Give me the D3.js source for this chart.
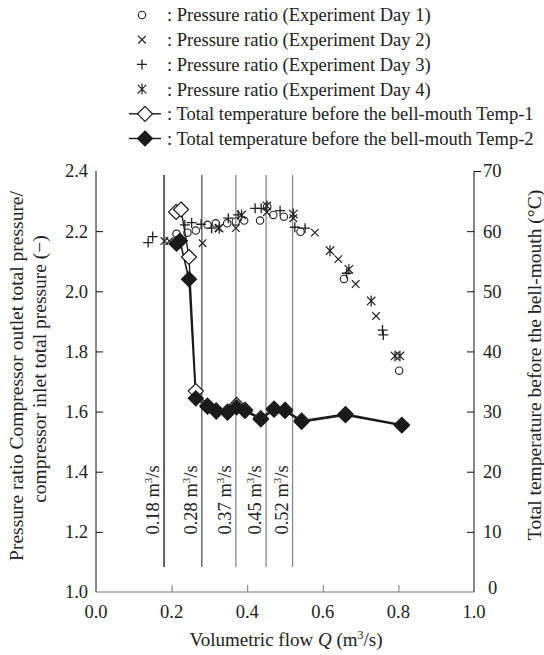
<!DOCTYPE html>
<html>
<head>
<meta charset="utf-8">
<script src="https://cdn.jsdelivr.net/npm/d3@7"></script>
<style>
  body { margin: 0; background: #fff; }
</style>
</head>
<body>
<svg width="544" height="655" style="font-family: 'Liberation Serif', 'DejaVu Serif', serif;"></svg>
<script>
// pressure ratio, one array per experiment day: [flow, ratio]
var day1 = [[0.213, 2.191], [0.242, 2.195], [0.264, 2.202], [0.295, 2.221], [0.317, 2.226],
  [0.347, 2.226], [0.370, 2.232], [0.392, 2.235], [0.434, 2.235], [0.453, 2.282], [0.469, 2.254],
  [0.497, 2.248], [0.541, 2.198], [0.656, 2.041], [0.802, 1.736]];
var day2 = [[0.181, 2.167], [0.194, 2.167], [0.282, 2.160], [0.324, 2.210], [0.370, 2.210],
  [0.452, 2.263], [0.522, 2.243], [0.579, 2.195], [0.641, 2.107], [0.687, 2.024], [0.741, 1.918]];
var day3 = [[0.138, 2.162], [0.150, 2.182], [0.235, 2.221], [0.253, 2.228], [0.278, 2.223],
  [0.306, 2.210], [0.350, 2.243], [0.376, 2.254], [0.421, 2.276], [0.437, 2.276], [0.487, 2.268],
  [0.526, 2.213], [0.553, 2.210], [0.663, 2.060], [0.758, 1.871], [0.760, 1.855]];
var day4 = [[0.326, 2.210], [0.385, 2.254], [0.452, 2.284], [0.522, 2.257], [0.619, 2.135],
  [0.669, 2.073], [0.728, 1.968], [0.791, 1.785], [0.804, 1.785]];

// total temperature before the bell-mouth (deg C)
var temp1 = [[0.212, 63.2], [0.225, 63.6], [0.246, 55.7], [0.264, 33.4], [0.295, 31.0],
  [0.318, 30.2], [0.348, 30.0], [0.372, 31.1], [0.394, 30.3], [0.436, 28.9], [0.471, 30.5],
  [0.500, 30.3], [0.544, 28.5], [0.660, 29.6], [0.809, 27.8]];
var temp2 = [[0.213, 57.9], [0.222, 58.4], [0.246, 52.0], [0.264, 32.2], [0.295, 30.8],
  [0.318, 30.0], [0.348, 29.8], [0.372, 30.7], [0.394, 30.1], [0.436, 28.7], [0.471, 30.3],
  [0.500, 30.1], [0.544, 28.3], [0.660, 29.4], [0.809, 27.7]];

// marked flow rates
var flowLines = [0.18, 0.28, 0.37, 0.45, 0.52];
var flowColors = ["#111", "#555", "#888", "#888", "#888"];

var xTicks = [0.0, 0.2, 0.4, 0.6, 0.8, 1.0];
var yTicks = [1.0, 1.2, 1.4, 1.6, 1.8, 2.0, 2.2, 2.4];
var y2Ticks = [0, 10, 20, 30, 40, 50, 60, 70];

var legendLabels = [": Pressure ratio (Experiment Day 1)", ": Pressure ratio (Experiment Day 2)",
  ": Pressure ratio (Experiment Day 3)", ": Pressure ratio (Experiment Day 4)",
  ": Total temperature before the bell-mouth Temp-1", ": Total temperature before the bell-mouth Temp-2"];

var FONT = "'Liberation Serif', 'DejaVu Serif', serif";
var svg = d3.select("svg");

// scales
var x = d3.scaleLinear().domain([0, 1.0]).range([96, 474]);
var y = d3.scaleLinear().domain([1.0, 2.4]).range([592, 171]);
var y2 = d3.scaleLinear().domain([0, 70]).range([592, 171]);

// marker drawing helpers
function marker(g, type, cx, cy) {
  if (type == "o") {
    g.append("circle").attr("cx", cx).attr("cy", cy).attr("r", 3.7)
      .attr("fill", "none").attr("stroke", "#222").attr("stroke-width", 1.1);
  } else if (type == "x") {
    var s = 3.8;
    g.append("path").attr("d", "M" + (cx - s) + "," + (cy - s) + "L" + (cx + s) + "," + (cy + s) +
      "M" + (cx - s) + "," + (cy + s) + "L" + (cx + s) + "," + (cy - s))
      .attr("stroke", "#222").attr("stroke-width", 1.2);
  } else if (type == "+") {
    var p = 5;
    g.append("path").attr("d", "M" + (cx - p) + "," + cy + "L" + (cx + p) + "," + cy +
      "M" + cx + "," + (cy - p) + "L" + cx + "," + (cy + p))
      .attr("stroke", "#222").attr("stroke-width", 1.3);
  } else if (type == "*") {
    var a = 4.2;
    g.append("path").attr("d", "M" + (cx - a) + "," + (cy - a) + "L" + (cx + a) + "," + (cy + a) +
      "M" + (cx - a) + "," + (cy + a) + "L" + (cx + a) + "," + (cy - a) +
      "M" + cx + "," + (cy - 5.5) + "L" + cx + "," + (cy + 5.5))
      .attr("stroke", "#222").attr("stroke-width", 1.2);
  } else {
    var d = 7.5;
    g.append("path").attr("d", "M" + cx + "," + (cy - d) + "L" + (cx + d) + "," + cy +
      "L" + cx + "," + (cy + d) + "L" + (cx - d) + "," + cy + "Z")
      .attr("fill", type == "dfill" ? "#1a1a1a" : "#fff")
      .attr("stroke", "#1a1a1a").attr("stroke-width", 1.2);
  }
}

function label(sel) {
  return sel.attr("font-family", FONT).style("font-family", FONT).attr("fill", "#222");
}

// vertical flow lines with labels
var fl = svg.append("g");
flowLines.forEach(function (q, i) {
  fl.append("line").attr("x1", x(q)).attr("x2", x(q)).attr("y1", 175).attr("y2", 567)
    .attr("stroke", flowColors[i]).attr("stroke-width", 1.3);
  var t = label(fl.append("text"))
    .attr("transform", "translate(" + (x(q) - 5) + ",500) rotate(-90)")
    .attr("text-anchor", "middle")
    .style("font-size", "18.5px");
  t.append("tspan").text(q.toFixed(2) + " m");
  t.append("tspan").attr("dy", -7).style("font-size", "11px").text("3");
  t.append("tspan").attr("dy", 7).text("/s");
});

// axes
var axL = svg.append("g").attr("transform", "translate(96,0)")
  .call(d3.axisRight(y).tickValues(yTicks).tickSize(7).tickFormat(""));
axL.select(".domain").attr("stroke", "#111").attr("d", "M0,171V592");
axL.selectAll(".tick line").attr("stroke", "#111");
axL.selectAll(".tick").filter(function (d) { return d == 1.0 || d == 2.4; }).select("line").remove();

var axR = svg.append("g").attr("transform", "translate(474,0)")
  .call(d3.axisLeft(y2).tickValues(y2Ticks).tickSize(7).tickFormat(""));
axR.select(".domain").attr("stroke", "#111").attr("d", "M0,171V592");
axR.selectAll(".tick line").attr("stroke", "#111");
axR.selectAll(".tick").filter(function (d) { return d == 0; }).select("line").remove();
axR.selectAll(".tick").filter(function (d) { return d == 70; }).select("line").attr("x2", 7);

var axB = svg.append("g").attr("transform", "translate(0,592)")
  .call(d3.axisTop(x).tickValues(xTicks).tickSize(7).tickFormat(""));
axB.select(".domain").attr("stroke", "#777").attr("d", "M96,0H474");
axB.selectAll(".tick line").attr("stroke", "#777");
axB.selectAll(".tick").filter(function (d) { return d == 0 || d == 1.0; }).select("line").remove();

// tick labels
label(svg.append("g").selectAll("text").data(yTicks).enter().append("text"))
  .attr("x", 88).attr("y", function (d) { return y(d); }).attr("dy", "0.35em")
  .attr("text-anchor", "end").style("font-size", "18.5px").text(function (d) { return d.toFixed(1); });
label(svg.append("g").selectAll("text").data(y2Ticks).enter().append("text"))
  .attr("x", 483).attr("y", function (d) { return y2(d); }).attr("dy", function (d) { return d == 0 ? "0.1em" : "0.35em"; })
  .attr("dx", function (d) { return d == 0 ? 5 : 0; })
  .attr("text-anchor", "start").style("font-size", "18.5px").text(function (d) { return d; });
label(svg.append("g").selectAll("text").data(xTicks).enter().append("text"))
  .attr("x", function (d) { return x(d); }).attr("y", 612).attr("dy", "0.35em")
  .attr("text-anchor", "middle").style("font-size", "18.5px").text(function (d) { return d.toFixed(1); });

// axis titles
label(svg.append("text")).attr("transform", "translate(23,376) rotate(-90)").attr("text-anchor", "middle")
  .style("font-size", "19.5px").text("Pressure ratio  Compressor outlet total pressure/");
label(svg.append("text")).attr("transform", "translate(46,369) rotate(-90)").attr("text-anchor", "middle")
  .style("font-size", "19.5px").text("compressor inlet total pressure  (\u2212)");
label(svg.append("text")).attr("transform", "translate(541,365) rotate(-90)").attr("text-anchor", "middle")
  .style("font-size", "19.5px").text("Total temperature before the bell-mouth  (\u00b0C)");
var xt = label(svg.append("text")).attr("x", 286).attr("y", 646).attr("text-anchor", "middle").style("font-size", "19px");
xt.append("tspan").text("Volumetric flow ");
xt.append("tspan").style("font-style", "italic").text("Q");
xt.append("tspan").text("  (m");
xt.append("tspan").attr("dy", -7).style("font-size", "12px").text("3");
xt.append("tspan").attr("dy", 7).text("/s)");

// temperature lines
var line = d3.line().x(function (d) { return x(d[0]); }).y(function (d) { return y2(d[1]); });
svg.append("path").datum(temp1).attr("d", line).attr("fill", "none").attr("stroke", "#1a1a1a").attr("stroke-width", 1.4);
svg.append("path").datum(temp2).attr("d", line).attr("fill", "none").attr("stroke", "#1a1a1a").attr("stroke-width", 1.6);

// pressure markers
var pm = svg.append("g");
[[day1, "o"], [day2, "x"], [day3, "+"], [day4, "*"]].forEach(function (s) {
  s[0].forEach(function (d) { marker(pm, s[1], x(d[0]), y(d[1])); });
});

// temperature markers
var tm = svg.append("g");
temp1.forEach(function (d) { marker(tm, "dopen", x(d[0]), y2(d[1])); });
temp2.forEach(function (d) { marker(tm, "dfill", x(d[0]), y2(d[1])); });

// legend
var lg = svg.append("g");
var legendTypes = ["o", "x", "+", "*", "dopen", "dfill"];
legendLabels.forEach(function (txt, i) {
  var ly = 15 + i * 24.7;
  if (i >= 4) {
    lg.append("line").attr("x1", 129).attr("x2", 161).attr("y1", ly).attr("y2", ly)
      .attr("stroke", "#1a1a1a").attr("stroke-width", 1.4);
    marker(lg, legendTypes[i], 145, ly);
  } else {
    marker(lg, legendTypes[i], 142, ly);
  }
  label(lg.append("text")).attr("x", 167).attr("y", ly).attr("dy", "0.35em")
    .style("font-size", "18.5px").text(txt);
});
</script>
</body>
</html>
